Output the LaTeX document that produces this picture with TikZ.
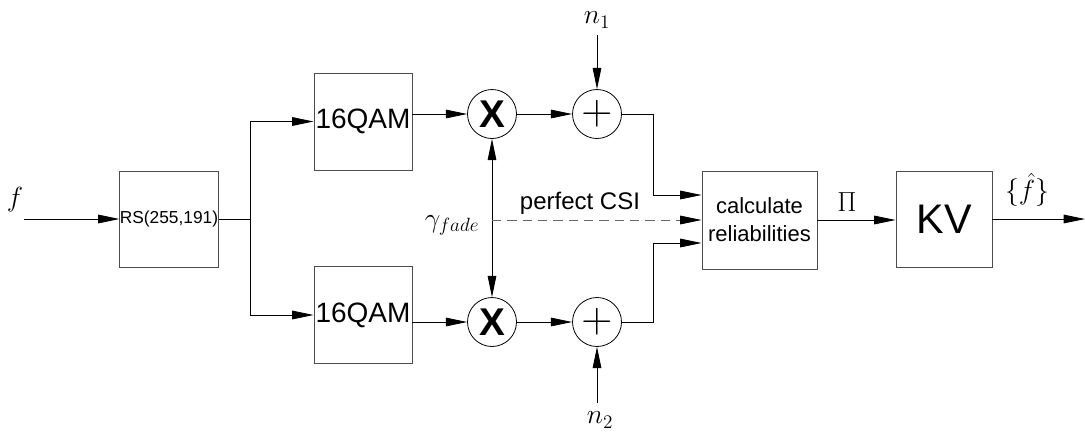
\documentclass[tikz,border=0pt]{standalone}
\usepackage{graphicx}
\usepackage{fontspec}
\setmainfont{Liberation Sans}
\usetikzlibrary{arrows.meta,calc}
\begin{document}
\begin{tikzpicture}[x=0.75pt,y=-0.75pt,
  blk/.style={draw=black!70,line width=0.7pt,inner sep=0pt,anchor=center},
  circ/.style={draw=black,line width=0.6pt,circle,minimum size=36.75pt,inner sep=0pt},
  conn/.style={line width=0.6pt,-{Triangle[length=16pt,width=6.5pt]}},
  plain/.style={line width=0.6pt},
  mathlbl/.style={font=\fontsize{21}{21}\selectfont,inner sep=0pt}]
\useasboundingbox (0,0) rectangle (1085,433);
% blocks
\node[blk,minimum width=73.5pt,minimum height=72pt,font=\fontsize{13}{13}\selectfont] (rs) at (169,219) {RS(255,191)};
\node[blk,minimum width=73.5pt,minimum height=72.75pt,font=\fontsize{21}{21}\selectfont] (qam1) at (363,121.5) {16QAM};
\node[blk,minimum width=73.5pt,minimum height=72.75pt,font=\fontsize{21}{21}\selectfont] (qam2) at (363,315) {16QAM};
\node[circ,font=\fontsize{29}{29}\selectfont\bfseries] (mul1) at (492,114) {X};
\node[circ,font=\fontsize{29}{29}\selectfont\bfseries] (mul2) at (492,322) {X};
\node[circ] (add1) at (597,114) {\scalebox{1.3}{\fontsize{24}{24}\selectfont$+$}};
\node[circ] (add2) at (597,322) {\scalebox{1.3}{\fontsize{24}{24}\selectfont$+$}};
\node[blk,minimum width=86.25pt,minimum height=73.5pt,align=center,font=\fontsize{16.5}{21}\selectfont] (calc) at (759.5,220) {calculate\\reliabilities};
\node[blk,minimum width=72pt,minimum height=72pt,font=\fontsize{31}{31}\selectfont] (kv) at (944,219) {KV};
% labels / free ends
\node[mathlbl] (flbl) at (15,200) {$f$};
\coordinate (fin) at (24,219);
\node[mathlbl] (n1) at (597,20) {$n_1$};
\node[mathlbl] (n2) at (600,420) {$n_2$};
\coordinate (n1s) at (597,35);
\coordinate (n2s) at (597,403);
\node[mathlbl] (gam) at (452,225) {$\gamma_{fade}$};
\node[font=\fontsize{18}{18}\selectfont,inner sep=0pt] (csi) at (580,203) {perfect CSI};
\node[mathlbl] (pi) at (847,202) {$\Pi$};
\node[mathlbl] (fh) at (1027,190) {$\{\hat{f}\}$};
\coordinate (out) at (1085,219);
\coordinate (br) at (250,219);
\coordinate (dstart) at (492,220);
% connectors
\draw[conn] (fin) -- (rs.west);
\draw[plain] (rs.east) -- (br);
\draw[conn] (br) |- (qam1.west);
\draw[conn] (br) |- (qam2.west);
\draw[conn] (qam1.east |- mul1) -- (mul1.west);
\draw[conn] (qam2.east |- mul2) -- (mul2.west);
\draw[conn] (mul1.east) -- (add1.west);
\draw[conn] (mul2.east) -- (add2.west);
\draw[conn] (n1s) -- (add1.north);
\draw[conn] (n2s) -- (add2.south);
\draw[line width=0.6pt,{Triangle[length=16pt,width=6.5pt]}-{Triangle[length=16pt,width=6.5pt]}] (mul1.south) -- (mul2.north);
\draw[conn] (add1.east) -- (653,114) |- ($(calc.west)+(0,-25)$);
\draw[conn] (add2.east) -- (653,322) |- ($(calc.west)+(0,23)$);
\draw[line width=0.6pt,draw=black!60,dash pattern=on 7pt off 4.5pt] (dstart) -- ($(calc.west)+(-20,0)$);
\draw[conn] ($(calc.west)+(-20,0)$) -- (calc.west);
\draw[conn] (calc.east) -- (kv.west |- calc.east);
\draw[conn] (kv.east) -- (out);
\end{tikzpicture}
\end{document}
